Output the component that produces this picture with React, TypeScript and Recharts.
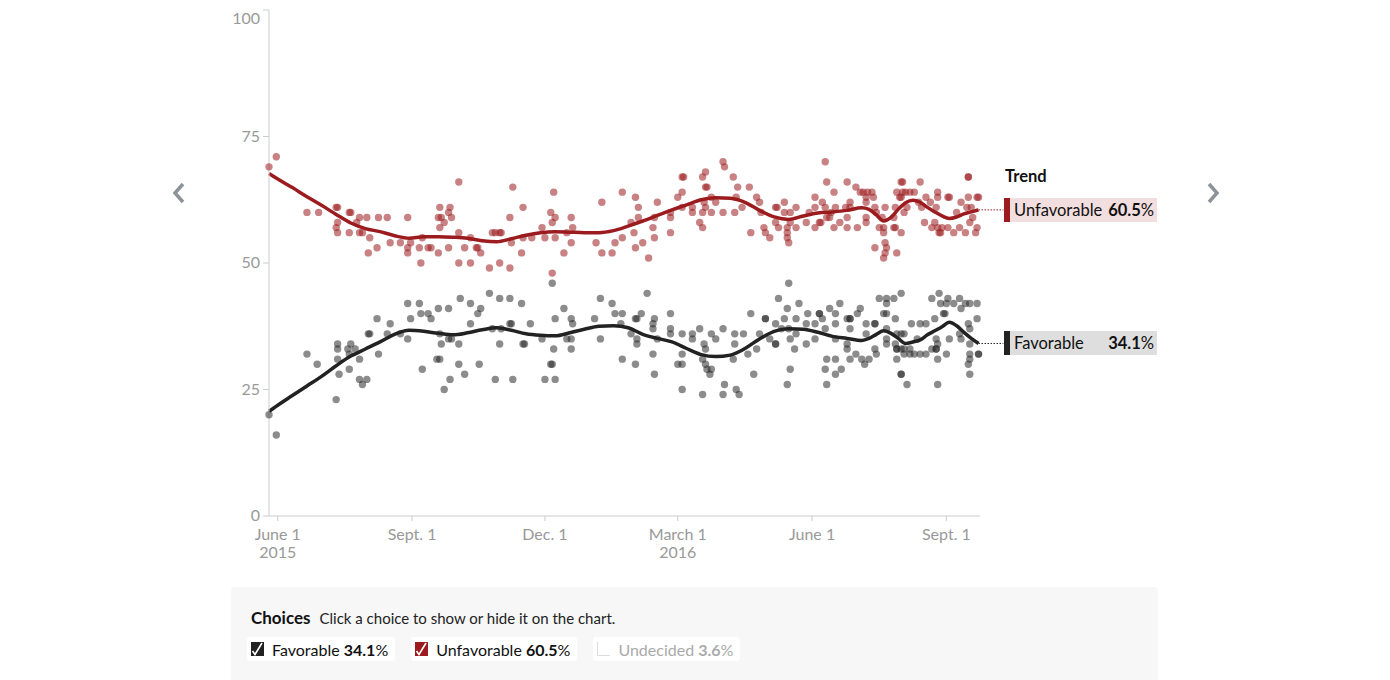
import { ComposedChart, Scatter, Line, XAxis, YAxis, ReferenceLine } from "recharts";

// days counted from June 1, 2015
const xTicks = [0, 92, 183, 274, 366, 458];
const xTickLabels = ["June 1", "Sept. 1", "Dec. 1", "March 1", "June 1", "Sept. 1"];
const xTickYears = ["2015", "", "", "2016", "", ""];
const yTicks = [0, 25, 50, 75, 100];

// [day, value] for each poll
const unfavorablePolls: [number, number][] = [
  [-6, 69], [-1, 71], [20, 60], [28, 60], [40, 61], [41, 61], [41, 58], [40, 57], [41, 56], [49, 60], [50, 60],
  [49, 56], [54, 58], [56, 59], [56, 56], [58, 56], [61, 59], [63, 55], [62, 52], [68, 53], [69, 59], [75, 59],
  [77, 54], [84, 54], [89, 59], [89, 53], [89, 52], [91, 54], [99, 55], [97, 53], [98, 50], [103, 53], [105, 53],
  [110, 52], [111, 61], [110, 59], [112, 59], [111, 57], [114, 58], [117, 60], [118, 61], [119, 59], [117, 53],
  [124, 66], [124, 56], [124, 50], [128, 53], [132, 50], [132, 55], [137, 53], [136, 53], [139, 52], [145, 49],
  [147, 56], [149, 56], [152, 56], [153, 56], [152, 50], [159, 49], [159, 59], [161, 65], [160, 54], [167, 52],
  [168, 61], [168, 55], [174, 55], [181, 57], [183, 55], [187, 60], [188, 58], [190, 59], [189, 64], [190, 55],
  [188, 48], [196, 52], [198, 56], [201, 59], [202, 57], [201, 54], [218, 54], [222, 62], [222, 52], [229, 52],
  [231, 54], [236, 64], [236, 55], [242, 58], [244, 56], [245, 63], [247, 61], [247, 59], [245, 53], [250, 54],
  [254, 51], [257, 57], [258, 59], [258, 55], [260, 62], [269, 60], [269, 59], [269, 56], [274, 63], [277, 64],
  [277, 67], [278, 67], [277, 61], [284, 61], [284, 60], [289, 58], [291, 57], [291, 67], [293, 68], [293, 65],
  [294, 65], [292, 62], [293, 61], [291, 60], [297, 63], [297, 60], [300, 62], [305, 70], [306, 69], [305, 60],
  [312, 67], [313, 60], [314, 63], [315, 65], [323, 65], [318, 61], [328, 63], [330, 62], [331, 60], [324, 56],
  [333, 57], [334, 56], [337, 55], [341, 61], [342, 61], [341, 58], [343, 57], [347, 62], [347, 60], [351, 60],
  [349, 57], [349, 56], [349, 55], [350, 54], [355, 61], [351, 58], [355, 57], [362, 58], [364, 60], [368, 63],
  [368, 61], [368, 57], [371, 58], [372, 58], [373, 62], [375, 70], [376, 66], [375, 61], [376, 59], [379, 60],
  [378, 59], [381, 64], [382, 61], [381, 57], [385, 58], [389, 61], [390, 66], [390, 57], [390, 59], [392, 62],
  [392, 61], [396, 65], [397, 57], [399, 64], [401, 64], [404, 64], [407, 64], [403, 63], [408, 63], [403, 62],
  [403, 59], [403, 58], [409, 61], [410, 60], [409, 53], [412, 57], [415, 57], [415, 56], [414, 59], [416, 61],
  [415, 51], [416, 52], [417, 53], [416, 54], [424, 52], [423, 61], [422, 59], [422, 57], [423, 57], [427, 56],
  [424, 64], [427, 66], [428, 66], [428, 64], [427, 63], [426, 63], [430, 64], [433, 64], [436, 64], [429, 60],
  [431, 61], [440, 66], [439, 62], [441, 61], [444, 63], [447, 62], [443, 58], [448, 57], [450, 58], [452, 63],
  [452, 64], [451, 61], [453, 56], [454, 56], [452, 57], [455, 57], [459, 63], [460, 63], [459, 57], [463, 56],
  [465, 60], [467, 57], [471, 56], [468, 62], [473, 67], [473, 67], [473, 63], [472, 61], [475, 61], [474, 58],
  [476, 59], [479, 63], [480, 63], [479, 57], [478, 56],
];

const favorablePolls: [number, number][] = [
  [-6, 20], [-1, 16], [20, 32], [27, 30], [40, 23], [41, 34], [41, 33], [41, 31], [42, 28], [48, 33], [50, 34],
  [49, 32], [53, 33], [56, 31], [49, 29], [56, 27], [58, 26], [61, 27], [62, 36], [63, 36], [69, 32], [68, 39],
  [75, 36], [77, 38], [84, 36], [89, 42], [97, 42], [89, 35], [91, 39], [98, 40], [103, 40], [105, 39], [99, 29],
  [110, 41], [111, 36], [112, 34], [109, 31], [111, 31], [114, 25], [117, 41], [117, 35], [119, 35], [118, 27],
  [124, 34], [124, 30], [125, 43], [128, 28], [132, 42], [132, 38], [137, 40], [139, 41], [138, 30], [145, 44],
  [147, 37], [149, 27], [152, 43], [152, 34], [153, 37], [159, 43], [159, 38], [160, 38], [161, 27], [167, 42],
  [168, 34], [169, 34], [173, 38], [181, 35], [188, 46], [183, 27], [190, 27], [187, 30], [188, 30], [189, 33],
  [190, 39], [196, 41], [198, 35], [201, 35], [201, 39], [202, 38], [201, 33], [217, 39], [221, 43], [221, 35],
  [229, 42], [231, 40], [236, 40], [235, 38], [236, 31], [242, 36], [245, 39], [246, 39], [246, 35], [246, 34],
  [245, 30], [249, 40], [253, 44], [258, 39], [257, 38], [257, 37], [260, 35], [257, 32], [258, 28], [269, 40],
  [269, 37], [269, 36], [277, 36], [284, 36], [284, 35], [277, 32], [274, 30], [277, 30], [277, 25], [289, 37],
  [292, 34], [293, 33], [291, 31], [293, 30], [294, 29], [296, 28], [297, 29], [291, 24], [297, 36], [300, 35],
  [305, 37], [306, 26], [305, 24], [313, 36], [319, 36], [313, 34], [312, 31], [314, 25], [316, 24], [322, 32],
  [326, 28], [324, 40], [328, 33], [330, 36], [334, 39], [334, 39], [337, 35], [341, 34], [341, 34], [341, 38],
  [343, 43], [347, 39], [349, 41], [350, 46], [351, 35], [355, 36], [355, 39], [354, 33], [351, 29], [349, 26],
  [357, 42], [362, 38], [362, 34], [363, 40], [345, 37], [350, 37], [368, 38], [368, 35], [371, 40], [371, 40],
  [373, 39], [378, 41], [375, 37], [376, 31], [375, 29], [376, 26], [382, 31], [382, 28], [382, 40], [382, 38],
  [385, 42], [386, 29], [382, 35], [390, 39], [392, 39], [392, 39], [390, 34], [390, 33], [392, 37], [392, 31],
  [397, 40], [399, 41], [396, 32], [400, 31], [402, 30], [405, 31], [409, 33], [409, 38], [409, 38], [410, 32],
  [403, 38], [403, 36], [412, 43], [417, 43], [422, 43], [417, 42], [415, 40], [417, 40], [417, 37], [417, 35],
  [417, 34], [423, 39], [427, 44], [424, 36], [427, 36], [429, 36], [424, 33], [424, 33], [423, 34], [427, 33],
  [429, 33], [433, 33], [424, 31], [427, 28], [427, 28], [431, 26], [429, 32], [433, 32], [434, 38], [438, 35],
  [436, 32], [440, 32], [444, 32], [440, 38], [444, 38], [448, 43], [453, 44], [454, 42], [459, 43], [458, 42],
  [450, 39], [451, 35], [452, 34], [451, 33], [451, 33], [448, 33], [452, 31], [452, 26], [456, 40], [457, 40],
  [460, 35], [458, 32], [463, 42], [467, 43], [471, 42], [474, 42], [479, 42], [468, 41], [467, 36], [468, 35],
  [473, 38], [474, 37], [479, 39], [474, 34], [474, 32], [474, 31], [473, 30], [474, 28], [480, 32], [480, 32],
];

const trendDays = [
  -6, 0, 10, 20, 30, 40, 50, 60, 70, 80, 90, 100, 110, 120, 130, 140, 150, 160, 170, 180, 190, 200, 210, 220,
  230, 240, 250, 260, 270, 280, 290, 300, 310, 320, 330, 340, 350, 360, 370, 380, 390, 400, 405, 410, 415, 420,
  425, 430, 435, 440, 445, 450, 455, 460, 465, 470, 475, 480,
];
const unfavorableTrend = [
  67.7, 66.6, 64.9, 63.1, 61.4, 59.6, 57.9, 56.8, 56.2, 55.4, 54.9, 55.2, 55.2, 55.1, 54.9, 54.4, 54.2, 54.8,
  55.5, 56.0, 56.2, 56.1, 56.0, 56.0, 56.4, 57.3, 58.3, 59.4, 60.5, 61.5, 62.5, 62.9, 62.8, 62.0, 60.4, 59.1,
  58.6, 59.3, 59.9, 60.1, 60.4, 60.9, 60.6, 59.5, 58.3, 59.0, 60.6, 61.9, 62.4, 62.0, 61.0, 60.1, 59.3, 58.8,
  59.1, 59.7, 60.1, 60.5,
];
const favorableTrend = [
  20.7, 21.9, 23.8, 25.7, 27.6, 29.7, 31.6, 33.0, 34.4, 35.9, 36.7, 36.5, 36.1, 35.8, 36.2, 36.8, 37.2, 36.7,
  36.0, 35.7, 35.6, 36.2, 36.9, 37.5, 37.6, 37.2, 35.9, 35.1, 34.4, 33.1, 31.9, 31.5, 31.8, 33.1, 35.0, 36.5,
  37.0, 36.9, 36.3, 35.5, 35.1, 34.7, 35.1, 35.9, 36.6, 36.1, 35.1, 34.1, 34.4, 34.8, 35.8, 36.6, 37.4, 38.3,
  37.6, 36.3, 35.1, 34.1,
];

const FAVORABLE_NOW = 34.1;
const UNFAVORABLE_NOW = 60.5;
const UNDECIDED_NOW = 3.6;

const RED = "#9b1b1e";
const DARK = "#222";
const FONT = "Lato, 'Open Sans', sans-serif";

// plot area, used only to place the html labels next to the trend ends
const PLOT_TOP = 10;
const PLOT_BOTTOM = 516;
const valueToY = (v: number) => PLOT_BOTTOM - (v / 100) * (PLOT_BOTTOM - PLOT_TOP);

const unfavData = unfavorablePolls.map(([day, value]) => ({ day, value }));
const favData = favorablePolls.map(([day, value]) => ({ day, value }));
const unfavTrendData = trendDays.map((day, i) => ({ day, value: unfavorableTrend[i] }));
const favTrendData = trendDays.map((day, i) => ({ day, value: favorableTrend[i] }));

const dot = (color: string, opacity: number) => (props: any) =>
  <circle cx={props.cx} cy={props.cy} r={3.7} fill={color} fillOpacity={opacity} />;

function XTick(props: any) {
  const { x, y, payload } = props;
  const i = xTicks.indexOf(payload.value);
  return (
    <text x={x} y={y} textAnchor="middle" fill="#999" fontSize={16} fontFamily={FONT}>
      <tspan x={x} dy="0.72em">{xTickLabels[i]}</tspan>
      {xTickYears[i] ? <tspan x={x} dy="1.15em">{xTickYears[i]}</tspan> : null}
    </text>
  );
}

function YTick(props: any) {
  const { x, y, payload } = props;
  return (
    <text x={x} y={y} dy={payload.value === 100 ? 14 : 5} textAnchor="end" fill="#999" fontSize={16} fontFamily={FONT}>
      {payload.value}
    </text>
  );
}

function TrendLabel({ name, value, color, bg }: { name: string; value: number; color: string; bg: string }) {
  return (
    <div
      style={{
        position: "absolute", left: 1004, top: valueToY(value) - 12, width: 153, height: 24,
        background: bg, borderLeft: `6px solid ${color}`, boxSizing: "border-box",
        display: "flex", justifyContent: "space-between", alignItems: "center",
        padding: "0 3px 0 4px", fontSize: 16.5, color: "#111",
      }}
    >
      <span>{name}</span>
      <span><b>{value.toFixed(1)}</b>%</span>
    </div>
  );
}

function CheckIcon({ color, empty }: { color: string; empty?: boolean }) {
  return (
    <svg width={13} height={14} style={{ marginRight: 8 }}>
      {empty ? (
        <path d="M0.5,0 L0.5,13.5 L13,13.5" fill="none" stroke="#ddd" strokeWidth={1} />
      ) : (
        <>
          <rect x={0} y={0} width={13} height={14} fill={color} />
          <polyline points="1.5,9 4,12.5 11,1" fill="none" stroke="#fff" strokeWidth={1.6} />
        </>
      )}
    </svg>
  );
}

function Choice({ name, value, color, muted }: { name: string; value: number; color: string; muted?: boolean }) {
  return (
    <div
      style={{
        display: "flex", alignItems: "center", height: 24, background: "#fff", borderRadius: 3,
        padding: "0 7px 0 4px", fontSize: 16, color: muted ? "#aaa" : "#111",
      }}
    >
      <CheckIcon color={color} empty={muted} />
      <span>{name}&nbsp;</span>
      <span><b>{value.toFixed(1)}</b>%</span>
    </div>
  );
}

function Chevron({ left, dir }: { left: number; dir: "l" | "r" }) {
  return (
    <svg width={18} height={24} style={{ position: "absolute", left, top: 181 }}>
      <polyline
        points={dir === "l" ? "13,3 5,12 13,21" : "4,3 12,12 4,21"}
        fill="none" stroke="#8c939b" strokeWidth={3.5}
      />
    </svg>
  );
}

export default function App() {
  return (
    <div
      style={{
        position: "absolute", left: 0, top: 0, width: 1390, height: 680, overflow: "hidden",
        background: "#fff", fontFamily: FONT,
      }}
    >
      <ComposedChart width={1390} height={580} margin={{ top: 10, right: 410, bottom: 4, left: 229 }}>
        <XAxis
          type="number" dataKey="day" domain={[-6, 481]} ticks={xTicks} interval={0}
          tick={XTick} tickSize={5} tickMargin={7} height={60}
          axisLine={{ stroke: "#ccc" }} tickLine={{ stroke: "#ccc" }}
        />
        <YAxis
          type="number" dataKey="value" domain={[0, 100]} ticks={yTicks} interval={0}
          tick={YTick} tickSize={6} tickMargin={3} width={40}
          axisLine={{ stroke: "#ccc" }} tickLine={{ stroke: "#ccc" }}
        />
        <Scatter data={unfavData} shape={dot(RED, 0.55)} isAnimationActive={false} />
        <Scatter data={favData} shape={dot(DARK, 0.52)} isAnimationActive={false} />
        <Line
          data={unfavTrendData} dataKey="value" type="monotone" stroke={RED} strokeWidth={3.5}
          dot={false} activeDot={false} isAnimationActive={false}
        />
        <Line
          data={favTrendData} dataKey="value" type="monotone" stroke={DARK} strokeWidth={3.5}
          dot={false} activeDot={false} isAnimationActive={false}
        />
        <ReferenceLine
          segment={[{ x: 480, y: UNFAVORABLE_NOW }, { x: 497, y: UNFAVORABLE_NOW }]}
          stroke={RED} strokeDasharray="1.5 1.5" ifOverflow="visible"
        />
        <ReferenceLine
          segment={[{ x: 480, y: FAVORABLE_NOW }, { x: 497, y: FAVORABLE_NOW }]}
          stroke={DARK} strokeDasharray="1.5 1.5" ifOverflow="visible"
        />
      </ComposedChart>

      <div style={{ position: "absolute", left: 1005, top: 166, fontSize: 16.5, fontWeight: 700, color: "#111" }}>
        Trend
      </div>
      <TrendLabel name="Unfavorable" value={UNFAVORABLE_NOW} color={RED} bg="#f2dede" />
      <TrendLabel name="Favorable" value={FAVORABLE_NOW} color={DARK} bg="#dedede" />

      <Chevron left={170} dir="l" />
      <Chevron left={1205} dir="r" />

      <div
        style={{
          position: "absolute", left: 231, top: 587, width: 927, height: 120, background: "#f7f7f7",
          borderRadius: 4,
        }}
      >
        <div style={{ position: "absolute", left: 20, top: 20, display: "flex", alignItems: "baseline" }}>
          <span style={{ fontSize: 17, fontWeight: 700, color: "#111", marginRight: 9 }}>Choices</span>
          <span style={{ fontSize: 15, color: "#222" }}>Click a choice to show or hide it on the chart.</span>
        </div>
        <div style={{ position: "absolute", left: 16, top: 50, display: "flex", gap: 16 }}>
          <Choice name="Favorable" value={FAVORABLE_NOW} color={DARK} />
          <Choice name="Unfavorable" value={UNFAVORABLE_NOW} color={RED} />
          <Choice name="Undecided" value={UNDECIDED_NOW} color="#ddd" muted />
        </div>
      </div>
    </div>
  );
}
